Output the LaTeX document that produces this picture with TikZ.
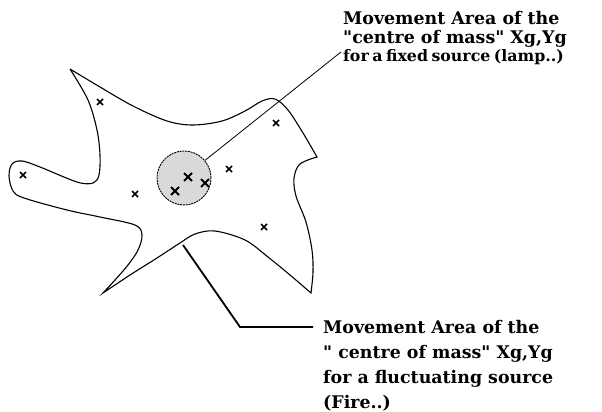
\documentclass[tikz,border=0pt]{standalone}
\usepackage{fontspec}
\newfontfamily\lblfont{DejaVu Serif}
\newcommand\lblfmt{\lblfont\bfseries\fontsize{17.4}{20}\selectfont}
\newcommand\lblsmall{\lblfont\bfseries\fontsize{15.8}{20}\selectfont\spaceskip=0.22em\relax}
\begin{document}
\begin{tikzpicture}[x=1pt,y=-1pt,
  outline/.style={line width=1.1pt,black},
  xmark/.style={line width=1.5pt},
  bigx/.style={line width=1.8pt},
  lbl/.style={font=\lblfmt,anchor=base west,inner sep=0pt}]
\useasboundingbox (0,0) rectangle (602,412);
% blob outline
\draw[outline] plot[smooth,tension=0.55] coordinates {(70,69) (100,87) (133,106) (167,121) (193,125) (222,121) (245,111) (262,101) (275,99) (288,110) (303,133) (317,157)}
  -- plot[smooth,tension=0.55] coordinates {(317,157) (300,164) (294,178) (296,196) (306,222) (312,250) (313,272) (311,293)}
  -- plot[smooth,tension=0.55] coordinates {(311,293) (290,275) (268,257) (245,240) (215,231) (195,234) (180,243) (157,258) (130,275) (103,293)}
  -- plot[smooth,tension=0.55] coordinates {(103,293) (115,280) (128,265) (138,250) (142,235) (135,225) (100,217) (67,210) (24,198) (13,191) (9,176) (12,164) (22,161) (40,167) (77,182) (93,183) (99,175) (100,155) (97,130) (88,100) (70,69)};
% fixed-source circle
\node (c) [circle,minimum size=54pt,inner sep=0pt,fill=black!15,draw,line width=0.9pt,dash pattern=on 2pt off 0.8pt] at (184,178) {};
% crosses
\foreach \px/\py in {100/102,276/123,23/175,135/194,229/169,264/227}{
  \draw[xmark] (\px-3,\py-3) -- (\px+3,\py+3) (\px-3,\py+3) -- (\px+3,\py-3);
}
\foreach \px/\py in {188/177,205/183,175/191}{
  \draw[bigx] (\px-4,\py-4) -- (\px+4,\py+4) (\px-4,\py+4) -- (\px+4,\py-4);
}
% top label
\node[lbl] (t1) at (343,25) {Movement Area of the};
\node[lbl] (t2) at (343,43.5) {"centre of mass" Xg,Yg};
\node[lbl,font=\lblsmall] (t3) at (343,62) {for a fixed source (lamp..)};
\coordinate (tl) at (341,52);
\draw[line width=0.8pt] (c.40) -- (tl);
% bottom label
\node[lbl] (b1) at (323,333) {Movement Area of the};
\node[lbl] (b2) at (323,358) {" centre of mass" Xg,Yg};
\node[lbl] (b3) at (323,383) {for a fluctuating source};
\node[lbl] (b4) at (323,408) {(Fire..)};
\coordinate (bs) at (183,245);
\coordinate (bk) at (240,327);
\coordinate (be) at (313,327);
\draw[line width=1.8pt] (bs) -- (bk) -- (be);
\end{tikzpicture}
\end{document}
